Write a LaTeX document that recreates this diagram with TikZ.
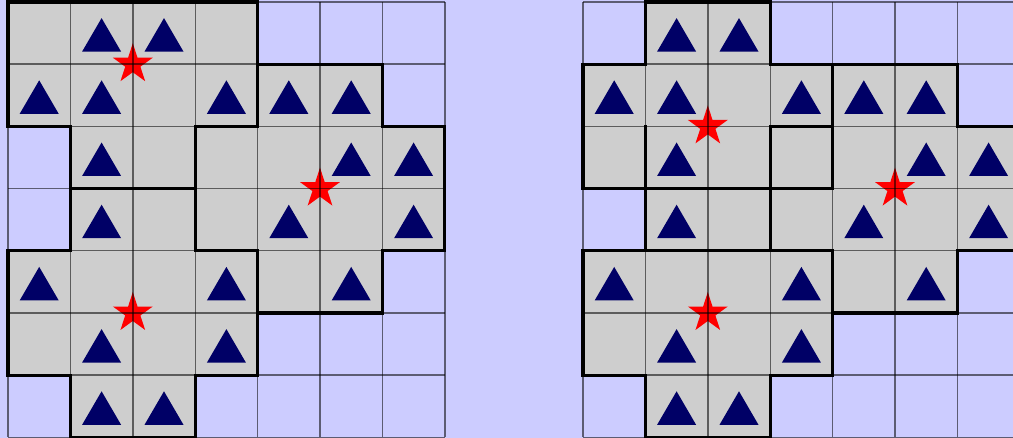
\documentclass[tikz,border=0pt]{standalone}
\usepackage{tikz}
\definecolor{bgblue}{HTML}{CCCCFF}
\definecolor{cellgray}{HTML}{CECECE}
\definecolor{trinavy}{HTML}{000066}
\definecolor{starred}{HTML}{FF0000}
\tikzset{
  thinline/.style={draw=black, draw opacity=0.55, line width=1.4pt},
  thickline/.style={draw=black, line width=3.2pt, line cap=rect},
  cellfill/.style={fill=cellgray},
  trifill/.style={fill=trinavy},
  starpic/.pic={\fill[starred] (90:21pt) -- (126:8pt) -- (162:21pt) -- (198:8pt) -- (234:21pt) -- (270:8pt) -- (306:21pt) -- (342:8pt) -- (18:21pt) -- (54:8pt) -- cycle;}
}
\begin{document}
\begin{tikzpicture}
\useasboundingbox (0pt,0pt) rectangle (1013pt,-438pt);
\clip (0pt,0pt) rectangle (1013pt,-438pt);
\fill[bgblue] (0pt,0pt) rectangle (1013pt,-438pt);

% ---------- left grid ----------
\begin{scope}[shift={(8pt,-2pt)}, x=62.4pt, y=-62.2pt]
  \foreach \c/\r in {0/0,1/0,2/0,3/0,
                     0/1,1/1,2/1,3/1,4/1,5/1,
                     1/2,2/2,3/2,4/2,5/2,6/2,
                     1/3,2/3,3/3,4/3,5/3,6/3,
                     0/4,1/4,2/4,3/4,4/4,5/4,
                     0/5,1/5,2/5,3/5,
                     1/6,2/6}
    \fill[cellfill] (\c,\r) rectangle ++(1,1);
  \foreach \c/\r in {1/0,2/0, 0/1,1/1,3/1,4/1,5/1, 1/2,5/2,6/2, 1/3,4/3,6/3, 0/4,3/4,5/4, 1/5,3/5, 1/6,2/6}
    \fill[trifill] (\c+.5,\r+.5) ++(0pt,15pt) -- ++(19.5pt,-33.5pt) -- ++(-39pt,0pt) -- cycle;
  \pic at (2,1) {starpic};
  \pic at (5,3) {starpic};
  \pic at (2,5) {starpic};
  \foreach \i in {0,...,7} {
    \draw[thinline] (\i,0) -- (\i,7);
    \draw[thinline] (0,\i) -- (7,\i);
  }
  \foreach \c/\r in {0/0,1/0,2/0,3/0, 4/1,5/1, 0/2,3/2,6/2, 1/3,2/3, 0/4,3/4,6/4, 4/5,5/5, 0/6,3/6, 1/7,2/7}
    \draw[thickline] (\c,\r) -- ++(1,0);
  \foreach \c/\r in {0/0,0/1,0/4,0/5, 1/2,1/3,1/6, 3/2,3/3,3/6, 4/0,4/1,4/4,4/5, 6/1,6/4, 7/2,7/3}
    \draw[thickline] (\c,\r) -- ++(0,1);
\end{scope}

% ---------- right grid ----------
\begin{scope}[shift={(583pt,-2pt)}, x=62.4pt, y=-62.2pt]
  \foreach \c/\r in {1/0,2/0,
                     0/1,1/1,2/1,3/1,4/1,5/1,
                     0/2,1/2,2/2,3/2,4/2,5/2,6/2,
                     1/3,2/3,3/3,4/3,5/3,6/3,
                     0/4,1/4,2/4,3/4,4/4,5/4,
                     0/5,1/5,2/5,3/5,
                     1/6,2/6}
    \fill[cellfill] (\c,\r) rectangle ++(1,1);
  \foreach \c/\r in {1/0,2/0, 0/1,1/1,3/1,4/1,5/1, 1/2,5/2,6/2, 1/3,4/3,6/3, 0/4,3/4,5/4, 1/5,3/5, 1/6,2/6}
    \fill[trifill] (\c+.5,\r+.5) ++(0pt,15pt) -- ++(19.5pt,-33.5pt) -- ++(-39pt,0pt) -- cycle;
  \pic at (2,2) {starpic};
  \pic at (5,3) {starpic};
  \pic at (2,5) {starpic};
  \foreach \i in {0,...,7} {
    \draw[thinline] (\i,0) -- (\i,7);
    \draw[thinline] (0,\i) -- (7,\i);
  }
  \foreach \c/\r in {1/0,2/0, 0/1,3/1,4/1,5/1, 3/2,6/2, 0/3,1/3,2/3,3/3, 0/4,1/4,2/4,3/4,6/4, 4/5,5/5, 0/6,3/6, 1/7,2/7}
    \draw[thickline] (\c,\r) -- ++(1,0);
  \foreach \c/\r in {0/1,0/2,0/4,0/5, 1/0,1/2,1/3,1/6, 3/0,3/2,3/3,3/6, 4/1,4/2,4/4,4/5, 6/1,6/4, 7/2,7/3}
    \draw[thickline] (\c,\r) -- ++(0,1);
\end{scope}
\end{tikzpicture}
\end{document}
